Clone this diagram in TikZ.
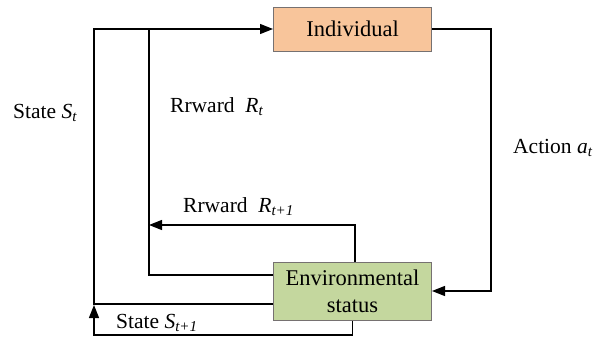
\documentclass[tikz,border=0pt]{standalone}
\usepackage{fontspec}
\setmainfont{Liberation Serif}
\usetikzlibrary{arrows.meta}
\definecolor{indfill}{HTML}{F8C59B}
\definecolor{envfill}{HTML}{C4D79E}
\definecolor{boxline}{HTML}{767171}
\newcommand{\symb}[2]{\textit{#1}\textsubscript{\textit{#2}}}
\tikzset{
  box/.style={draw=boxline, line width=1pt, minimum width=158pt, inner sep=0pt, align=center, font=\fontsize{22.5}{27}\selectfont},
  lbl/.style={anchor=west, inner sep=0pt, font=\fontsize{21.5}{23}\selectfont},
  conn/.style={draw=black, line width=1.4pt},
  arr/.style={conn, -{Triangle[length=13pt,width=10pt]}}
}
\begin{document}
\begin{tikzpicture}[x=1pt,y=-1pt]
\useasboundingbox (0,0) rectangle (595,341);
\node[box, fill=indfill, minimum height=44pt] (ind) at (352.5,29) {Individual};
\node[box, fill=envfill, minimum height=58pt] (env) at (352.5,291) {Environmental\\status};
\coordinate (ra) at (491,150);
\coordinate (rt1) at (149,225);
\coordinate (j1) at (149,29);
\coordinate (o1) at (94,200);
\coordinate (b1) at (94,335);
\coordinate (b2) at (94,305);
% action
\draw[arr] (ind.east) -| (ra) |- (env.east);
% reward R_{t+1}
\draw[arr] ([xshift=2.5pt]env.north) |- (rt1);
% inner reward line
\draw[conn] ([yshift=16pt]env.west) -| (j1);
% outer state line
\draw[arr] ([yshift=-13pt]env.west) -| (o1) |- (ind.west);
% bottom state S_{t+1}
\draw[arr] (env.south) |- (b1) -- (b2);
% labels
\node[lbl] (ls) at (13,113) {State \symb{S}{t}};
\node[lbl] (lr) at (170,107) {Rrward\ \ \symb{R}{t}};
\node[lbl] (lr1) at (183,207) {Rrward\ \ \symb{R}{t+1}};
\node[lbl] (la) at (513,148) {Action \symb{a}{t}};
\node[lbl] (ls1) at (116,323) {State \symb{S}{t+1}};
\end{tikzpicture}
\end{document}
